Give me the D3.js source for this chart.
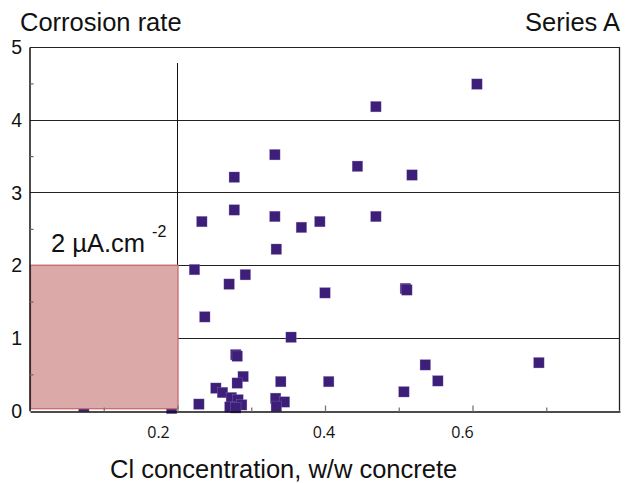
<!DOCTYPE html>
<html>
<head>
<meta charset="utf-8">
<script src="https://cdn.jsdelivr.net/npm/d3@7"></script>
<style>
  body { margin: 0; background: #fff; }
  text { font-family: "Liberation Sans", Arial, sans-serif; fill: #111; }
</style>
</head>
<body>
<div id="chart"></div>
<script>
// Data: chloride concentration (w/w concrete) vs corrosion rate
var clConc = [0.606, 0.469, 0.332, 0.444, 0.518, 0.277, 0.277, 0.233, 0.332, 0.368,
              0.393, 0.469, 0.334, 0.223, 0.292, 0.270, 0.400, 0.509, 0.511, 0.237,
              0.354, 0.279, 0.281, 0.289, 0.281, 0.252, 0.261, 0.273, 0.282, 0.287,
              0.271, 0.279, 0.229, 0.340, 0.333, 0.345, 0.334, 0.405, 0.507, 0.536,
              0.553, 0.690, 0.073, 0.192];
var corrRate = [4.49, 4.18, 3.52, 3.36, 3.24, 3.21, 2.76, 2.60, 2.67, 2.52,
                2.60, 2.67, 2.22, 1.94, 1.87, 1.74, 1.62, 1.68, 1.66, 1.29,
                1.01, 0.77, 0.75, 0.47, 0.38, 0.31, 0.25, 0.18, 0.15, 0.08,
                0.05, 0.04, 0.09, 0.40, 0.17, 0.12, 0.06, 0.40, 0.26, 0.63,
                0.41, 0.66, 0.06, 0.03];
var xTicks = [0.1, 0.2, 0.3, 0.4, 0.5, 0.6, 0.7];
var xLabels = [0.2, 0.4, 0.6];
var yTicks = [0, 1, 2, 3, 4, 5];
var clLimit = 0.2;     // threshold chloride
var rateLimit = 2;     // threshold corrosion rate

// Dimensions
var width = 631, height = 483;
var margin = { top: 47, right: 11, bottom: 72, left: 30 };

var svg = d3.select("#chart")
    .append("svg")
    .attr("width", width)
    .attr("height", height);

var x = d3.scaleLinear().domain([0, 0.8]).range([margin.left, width - margin.right]);
var y = d3.scaleLinear().domain([0, 5]).range([height - margin.bottom - 0.3, margin.top]);

// gridlines at integers
svg.append("g")
    .selectAll("line")
    .data(yTicks.slice(1))
    .enter().append("line")
    .attr("x1", x(0)).attr("x2", x(0.8))
    .attr("y1", function (d) { return Math.round(y(d)) + 0.5; })
    .attr("y2", function (d) { return Math.round(y(d)) + 0.5; })
    .attr("stroke", "#222")
    .attr("stroke-width", 1.2);

// right border
svg.append("line")
    .attr("x1", x(0.8) - 0.5).attr("x2", x(0.8) - 0.5)
    .attr("y1", y(5)).attr("y2", y(0))
    .attr("stroke", "#222").attr("stroke-width", 1.3);

// vertical threshold line
svg.append("line")
    .attr("x1", Math.round(x(clLimit)) - 0.5).attr("x2", Math.round(x(clLimit)) - 0.5)
    .attr("y1", y(4.78)).attr("y2", y(rateLimit))
    .attr("stroke", "#111").attr("stroke-width", 1);

// Points
svg.append("g")
    .selectAll("rect")
    .data(clConc)
    .enter().append("rect")
    .attr("x", function (d) { return x(d) - 5.25; })
    .attr("y", function (d, i) { return y(corrRate[i]) - 5.25; })
    .attr("width", 10.5)
    .attr("height", 10.5)
    .style("fill", "#3d1e78")
    .style("stroke", "#9a88c0")
    .style("stroke-width", 0.5)
    .style("stroke-opacity", 0.6);

// Shaded safe region
svg.append("rect")
    .attr("x", x(0) + 0.5)
    .attr("y", y(rateLimit))
    .attr("width", x(clLimit) - x(0))
    .attr("height", y(0) - y(rateLimit) - 2)
    .style("fill", "#dba9a8")
    .style("stroke", "#c86c70")
    .style("stroke-width", 1.3);

// X axis
var xAxis = svg.append("g")
    .attr("transform", "translate(0," + (Math.round(y(0)) + 0.5) + ")")
    .call(d3.axisBottom(x)
        .tickValues(xTicks)
        .tickSizeInner(-4)
        .tickSizeOuter(0)
        .tickFormat(""));
xAxis.select(".domain").attr("stroke", "#111").attr("stroke-width", 1.6);
xAxis.selectAll(".tick line")
    .attr("stroke", "#777")
    .attr("stroke-width", 1.3)
    .attr("y2", function (d) { return xLabels.indexOf(+d.toFixed(1)) >= 0 ? -6 : -4; });

// x labels (slightly off the tick marks, as in the source figure)
var labelShift = { "0.2": -19, "0.4": -1, "0.6": -10 };
svg.append("g")
    .selectAll("text")
    .data(xLabels)
    .enter().append("text")
    .attr("x", function (d) { return x(d) + labelShift[d.toFixed(1)]; })
    .attr("y", 438)
    .attr("text-anchor", "middle")
    .style("font-family", "'Open Sans', sans-serif")
    .style("font-size", "16px")
    .text(function (d) { return d.toFixed(1); });

// Y axis
var yAxis = svg.append("g")
    .attr("transform", "translate(" + (x(0) - 0.5) + ",0)")
    .call(d3.axisLeft(y)
        .tickValues(d3.range(0.5, 5, 1))
        .tickSizeInner(-4)
        .tickSizeOuter(0)
        .tickFormat(""));
yAxis.select(".domain").attr("stroke", "#111").attr("stroke-width", 1.5);
yAxis.selectAll(".tick line").attr("stroke", "#666").attr("stroke-width", 1.2);

svg.append("g")
    .selectAll("text")
    .data(yTicks)
    .enter().append("text")
    .attr("x", 22)
    .attr("y", function (d) { return y(d); })
    .attr("dy", "0.36em")
    .attr("text-anchor", "end")
    .style("font-size", "19.5px")
    .text(function (d) { return d; });

// Titles
svg.append("text")
    .attr("x", 20)
    .attr("y", 31)
    .style("font-size", "25.5px")
    .text("Corrosion rate");

svg.append("text")
    .attr("x", 620)
    .attr("y", 31)
    .attr("text-anchor", "end")
    .style("font-size", "25.5px")
    .text("Series A");

svg.append("text")
    .attr("x", 110)
    .attr("y", 478)
    .style("font-size", "25.5px")
    .text("Cl concentration, w/w concrete");

// threshold label
var lab = svg.append("text")
    .attr("x", 51)
    .attr("y", 252)
    .style("font-size", "25.5px");
lab.append("tspan").text("2 \u00b5A.cm");
lab.append("tspan")
    .attr("dx", 7)
    .attr("dy", -15)
    .style("font-size", "16px")
    .text("-2");
</script>
</body>
</html>
